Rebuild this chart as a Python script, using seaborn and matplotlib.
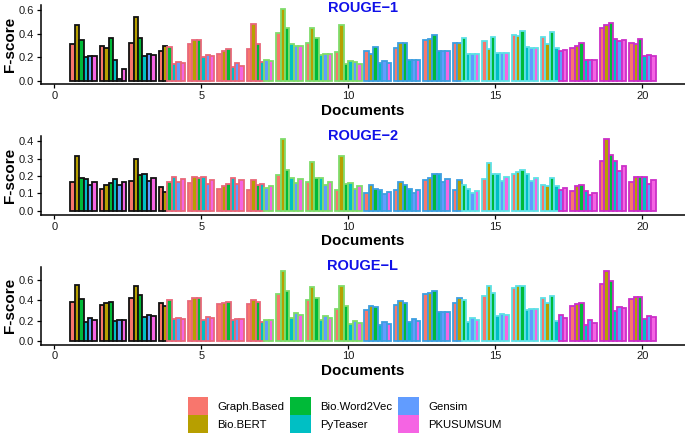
import matplotlib
matplotlib.use("Agg")
import matplotlib.pyplot as plt
from matplotlib.patches import Patch
import seaborn as sns
import pandas as pd
import numpy as np

sns.set_theme(style="ticks")
plt.rcParams['font.family'] = ['Liberation Sans', 'DejaVu Sans']
plt.rcParams['text.color'] = 'black'
plt.rcParams['axes.labelcolor'] = 'black'

methods = ["Graph.Based", "Bio.BERT", "Bio.Word2Vec", "PyTeaser", "Gensim", "PKUSUMSUM"]
documents = list(range(1, 21))
fill_colors = ["#F8766D", "#B79F00", "#00BA38", "#00BFC4", "#619CFF", "#F564E3"]
# outline colour changes every 20 bars (ggplot colour mapping of the original)
edge_colors = ["#111111", "#E8687A", "#80DC6C", "#3E9FE0", "#5EE1E6", "#CC2FC8"]

# one row per document, columns follow `methods`
rouge_1 = [
    [0.31, 0.47, 0.35, 0.205, 0.21, 0.21],
    [0.30, 0.28, 0.36, 0.18, 0.015, 0.10],
    [0.32, 0.54, 0.36, 0.21, 0.23, 0.22],
    [0.25, 0.30, 0.29, 0.14, 0.16, 0.155],
    [0.31, 0.35, 0.35, 0.20, 0.22, 0.21],
    [0.23, 0.25, 0.27, 0.115, 0.15, 0.13],
    [0.27, 0.48, 0.31, 0.16, 0.18, 0.17],
    [0.405, 0.61, 0.445, 0.31, 0.295, 0.30],
    [0.325, 0.45, 0.36, 0.22, 0.23, 0.23],
    [0.245, 0.47, 0.14, 0.165, 0.16, 0.14],
    [0.25, 0.225, 0.29, 0.15, 0.165, 0.155],
    [0.275, 0.32, 0.32, 0.18, 0.18, 0.18],
    [0.345, 0.355, 0.39, 0.25, 0.255, 0.25],
    [0.325, 0.325, 0.365, 0.23, 0.23, 0.23],
    [0.335, 0.27, 0.375, 0.235, 0.24, 0.24],
    [0.385, 0.38, 0.42, 0.285, 0.28, 0.28],
    [0.37, 0.31, 0.41, 0.275, 0.255, 0.265],
    [0.28, 0.30, 0.32, 0.18, 0.175, 0.18],
    [0.45, 0.47, 0.49, 0.355, 0.34, 0.345],
    [0.32, 0.31, 0.355, 0.21, 0.22, 0.215],
]
rouge_2 = [
    [0.163, 0.316, 0.19, 0.184, 0.147, 0.168],
    [0.128, 0.15, 0.16, 0.184, 0.147, 0.168],
    [0.174, 0.295, 0.203, 0.212, 0.172, 0.19],
    [0.138, 0.107, 0.165, 0.197, 0.163, 0.18],
    [0.16, 0.195, 0.188, 0.193, 0.157, 0.176],
    [0.125, 0.14, 0.155, 0.19, 0.155, 0.175],
    [0.122, 0.176, 0.15, 0.157, 0.132, 0.145],
    [0.205, 0.41, 0.237, 0.19, 0.16, 0.18],
    [0.165, 0.28, 0.19, 0.186, 0.15, 0.168],
    [0.122, 0.314, 0.157, 0.16, 0.128, 0.143],
    [0.10, 0.15, 0.128, 0.119, 0.096, 0.111],
    [0.119, 0.168, 0.15, 0.128, 0.10, 0.119],
    [0.176, 0.19, 0.214, 0.21, 0.165, 0.184],
    [0.122, 0.176, 0.15, 0.126, 0.103, 0.115],
    [0.184, 0.272, 0.209, 0.214, 0.174, 0.195],
    [0.209, 0.222, 0.235, 0.209, 0.172, 0.19],
    [0.149, 0.143, 0.186, 0.142, 0.119, 0.13],
    [0.117, 0.142, 0.149, 0.115, 0.092, 0.105],
    [0.287, 0.41, 0.32, 0.283, 0.23, 0.256],
    [0.165, 0.193, 0.193, 0.193, 0.155, 0.176],
]
rouge_l = [
    [0.38, 0.55, 0.41, 0.19, 0.23, 0.21],
    [0.35, 0.37, 0.38, 0.195, 0.21, 0.205],
    [0.42, 0.54, 0.45, 0.235, 0.255, 0.245],
    [0.37, 0.34, 0.40, 0.215, 0.225, 0.22],
    [0.395, 0.425, 0.42, 0.21, 0.235, 0.225],
    [0.36, 0.375, 0.38, 0.21, 0.22, 0.215],
    [0.36, 0.40, 0.38, 0.19, 0.21, 0.205],
    [0.463, 0.684, 0.495, 0.224, 0.278, 0.256],
    [0.40, 0.534, 0.425, 0.205, 0.243, 0.224],
    [0.31, 0.54, 0.342, 0.166, 0.195, 0.182],
    [0.303, 0.345, 0.332, 0.157, 0.185, 0.17],
    [0.35, 0.396, 0.377, 0.185, 0.217, 0.198],
    [0.463, 0.47, 0.49, 0.284, 0.284, 0.284],
    [0.377, 0.42, 0.405, 0.19, 0.23, 0.21],
    [0.444, 0.537, 0.47, 0.25, 0.268, 0.259],
    [0.518, 0.537, 0.546, 0.304, 0.313, 0.31],
    [0.42, 0.374, 0.447, 0.198, 0.252, 0.23],
    [0.348, 0.367, 0.374, 0.157, 0.21, 0.182],
    [0.56, 0.693, 0.594, 0.30, 0.335, 0.32],
    [0.41, 0.43, 0.43, 0.217, 0.25, 0.236],
]

panels = [
    ("ROUGE\u22121", rouge_1, [0.0, 0.2, 0.4, 0.6], (-0.025, 0.642)),
    ("ROUGE\u22122", rouge_2, [0.0, 0.1, 0.2, 0.3, 0.4], (-0.0206, 0.4286)),
    ("ROUGE\u2212L", rouge_l, [0.0, 0.2, 0.4, 0.6], (-0.0344, 0.728)),
]

# axes boxes in pixels: (top, bottom, title centre)
W, H = 685, 441
boxes = [(5, 84, 8), (136, 214.6, 136), (267, 344.5, 266)]
left_px = 41

fig = plt.figure(figsize=(6.85, 4.41), dpi=100)
fig.patch.set_facecolor("white")

for (title, values, yticks, ylim), (top, bottom, ty) in zip(panels, boxes):
    ax = fig.add_axes([left_px / W, 1 - bottom / H, 1 - left_px / W, (bottom - top) / H])
    df = pd.DataFrame(values, columns=methods)
    df["Document"] = documents
    long = df.melt(id_vars="Document", var_name="Method", value_name="F-score")

    sns.barplot(data=long, x="Document", y="F-score", hue="Method", hue_order=methods,
                palette=fill_colors, native_scale=True, width=0.9, gap=0, dodge=True,
                saturation=1, errorbar=None, linewidth=1.3, legend=False, ax=ax)

    for h, cont in enumerate(ax.containers):
        for bar in cont:
            doc = int(round(bar.get_x() + bar.get_width() / 2))
            idx = (doc - 1) * len(methods) + h
            bar.set_edgecolor(edge_colors[idx // 20])

    ax.set_xlim(-0.45, 21.45)
    ax.set_ylim(*ylim)
    ax.set_xticks([0, 5, 10, 15, 20])
    ax.set_yticks(yticks)
    ax.set_yticklabels([f"{t:.1f}" for t in yticks])
    ax.tick_params(axis="both", labelsize=8, length=3, width=0.9, pad=2,
                   colors="black", labelcolor="#1a1a1a")
    sns.despine(ax=ax)
    for s in ["left", "bottom"]:
        ax.spines[s].set_linewidth(1.1)
        ax.spines[s].set_color("black")
    ax.set_facecolor("white")
    ax.set_xlabel("Documents", fontsize=11, fontweight="bold", labelpad=2, color="black")
    ax.set_ylabel("F-score", fontsize=11, fontweight="bold", color="black")
    ax.yaxis.set_label_coords(-0.037, 0.5)
    ax.text(0.5, 1 - (ty - top) / (bottom - top), title, transform=ax.transAxes,
            ha="center", va="center", fontsize=10.5, fontweight="bold", color="#1010E8")

handles = [Patch(facecolor=c, edgecolor="none") for c in fill_colors]
fig.legend(handles, methods, ncol=3, loc="center", bbox_to_anchor=(0.503, 0.059),
           frameon=False, fontsize=8.2, handlelength=1.8, handleheight=2.0,
           labelspacing=0.05, columnspacing=0.55, handletextpad=0.8)

fig.savefig("out.png", dpi=100, facecolor="white")
